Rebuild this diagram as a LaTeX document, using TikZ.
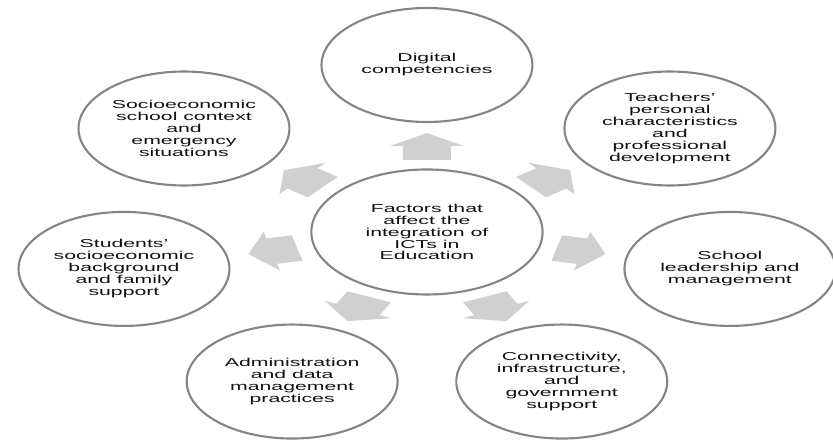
\documentclass[tikz,border=0pt]{standalone}
\usepackage{fontspec}
\setmainfont{Liberation Sans}
\usepackage{tikz}
\usetikzlibrary{calc}
\definecolor{ringgray}{HTML}{858585}
\definecolor{arrowgray}{HTML}{D0D0D0}
\definecolor{textgray}{HTML}{111111}
\def\blockarrow[#1](#2){\fill[#1, rotate=#2] (72, -13) -- (86, -13) -- (86, -20) -- (99, 0) -- (86, 20) -- (86, 13) -- (72, 13) -- cycle;}
\tikzset{
	bubble/.style={circle, draw=ringgray, line width=1.8pt, minimum size=3.42cm, inner sep=0pt, align=center, text=textgray, font=\fontsize{9.8}{10.2}\selectfont},
	hub/.style={bubble, minimum size=3.75cm}
}

\begin{document}
\begin{tikzpicture}[x=0.03cm, y=0.03cm, xscale=1.85, transform shape]
			%%%%% START %%%%%
			
			\useasboundingbox (-230.8, -209) rectangle (219.5, 232);
			
			\node[hub] (factors) at (0, 0) {Factors that\\affect the\\integration of\\ICTs in\\Education};
			
			\node[bubble] (digital) at (90:167) {Digital\\competencies};
			\node[bubble] (teachers) at ({38.57}:{168 and 166}) {Teachers’\\personal\\characteristics\\and\\professional\\development};
			\node[bubble] (leadership) at ({-12.86}:{168 and 166}) {School\\leadership and\\management};
			\node[bubble] (connectivity) at ({-64.29}:{168 and 166}) {Connectivity,\\infrastructure,\\and\\government\\support};
			\node[bubble] (administration) at ({-115.71}:{168 and 166}) {Administration\\and data\\management\\practices};
			\node[bubble] (students) at ({-167.14}:{168 and 166}) {Students’\\socioeconomic\\background\\and family\\support};
			\node[bubble] (context) at ({141.43}:{168 and 166}) {Socioeconomic\\school context\\and\\emergency\\situations};
			
			\blockarrow[arrowgray](90);
			\blockarrow[arrowgray](38.57);
			\blockarrow[arrowgray](-12.86);
			\blockarrow[arrowgray](-64.29);
			\blockarrow[arrowgray](-115.71);
			\blockarrow[arrowgray](-167.14);
			\blockarrow[arrowgray](141.43);
			
			%%%%% END %%%%%
\end{tikzpicture}
\end{document}
